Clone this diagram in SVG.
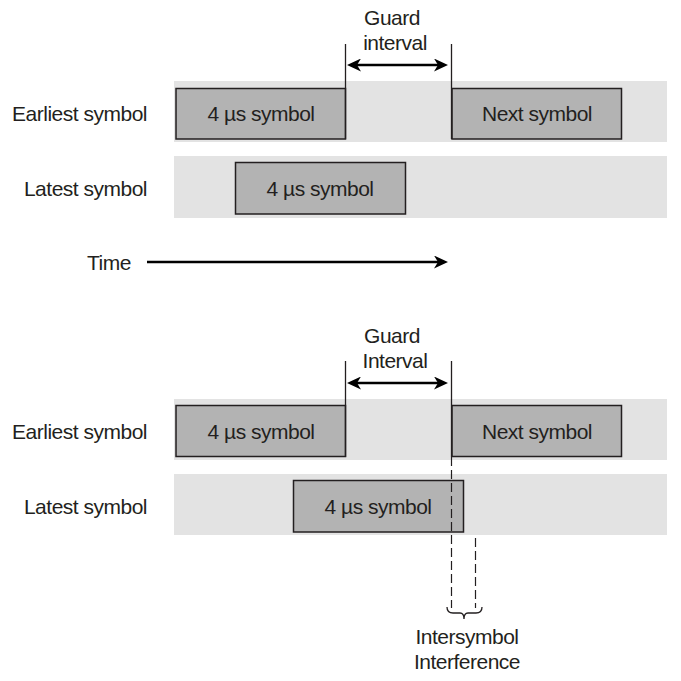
<svg xmlns="http://www.w3.org/2000/svg" width="681" height="681" viewBox="0 0 681 681">
<style>
text{font-family:"Liberation Sans",Arial,sans-serif;font-size:21px;letter-spacing:-0.5px;fill:#231f20}
.mid{text-anchor:middle}
.end{text-anchor:end}
.band{fill:#e3e3e3}
.box{fill:#b3b3b3;stroke:#231f20;stroke-width:1.5}
.vl{stroke:#231f20;stroke-width:1.3;fill:none}
.arr{stroke:#000;stroke-width:2.6;fill:none;marker-end:url(#ah)}
.darr{stroke:#000;stroke-width:2.6;fill:none;marker-start:url(#ah);marker-end:url(#ah)}
.dash{stroke:#231f20;stroke-width:1.2;stroke-dasharray:9 4;fill:none}
</style>
<defs>
<marker id="ah" markerUnits="userSpaceOnUse" markerWidth="15" markerHeight="13" refX="4" refY="6.5" orient="auto-start-reverse" viewBox="0 0 15 13">
<path d="M0,0 L14,6.5 L0,13 L4,6.5 z" fill="#000"/>
</marker>
</defs>
<rect width="681" height="681" fill="#fff"/>

<g id="top">
<g id="top-band1"><rect class="band" x="174" y="81" width="493" height="61"/></g>
<g id="top-band2"><rect class="band" x="174" y="156" width="493" height="62"/></g>
<g id="top-earliest-label"><text class="end" x="147" y="121">Earliest symbol</text></g>
<g id="top-latest-label"><text class="end" x="147" y="196">Latest symbol</text></g>
<g id="top-earliest-box"><rect class="box" x="176" y="88.5" width="169.5" height="50.5"/><text class="mid" x="261" y="121">4 µs symbol</text></g>
<g id="top-next-box"><rect class="box" x="452" y="88.5" width="169.5" height="50.5"/><text class="mid" x="537" y="121">Next symbol</text></g>
<g id="top-latest-box"><rect class="box" x="235.5" y="162.5" width="170" height="51.5"/><text class="mid" x="320" y="196">4 µs symbol</text></g>
<g id="top-guard-label"><text class="mid" x="392" y="25">Guard</text><text class="mid" x="395" y="50">interval</text></g>
<g id="time-label"><text x="87" y="270">Time</text></g>
</g>

<g id="bottom">
<g id="bot-band1"><rect class="band" x="174" y="399" width="493" height="61"/></g>
<g id="bot-band2"><rect class="band" x="174" y="474" width="493" height="61"/></g>
<g id="bot-earliest-label"><text class="end" x="147" y="439">Earliest symbol</text></g>
<g id="bot-latest-label"><text class="end" x="147" y="514">Latest symbol</text></g>
<g id="bot-earliest-box"><rect class="box" x="176" y="405.5" width="169.5" height="51"/><text class="mid" x="261" y="439">4 µs symbol</text></g>
<g id="bot-next-box"><rect class="box" x="452" y="405.5" width="169.5" height="51"/><text class="mid" x="537" y="439">Next symbol</text></g>
<g id="bot-latest-box"><rect class="box" x="293.5" y="480.5" width="170" height="51.5"/><text class="mid" x="378" y="514">4 µs symbol</text></g>
<g id="bot-guard-label"><text class="mid" x="392" y="343">Guard</text><text class="mid" x="395" y="368">Interval</text></g>
<g id="isi-label"><text class="mid" x="467" y="644">Intersymbol</text><text class="mid" x="467" y="669">Interference</text></g>
</g>

<g id="connectors">
<line class="vl" x1="345.5" y1="44" x2="345.5" y2="139"/>
<line class="vl" x1="451.5" y1="44" x2="451.5" y2="139"/>
<line class="darr" x1="357" y1="65" x2="438" y2="65"/>
<line class="arr" x1="147" y1="262" x2="438" y2="262"/>
<line class="vl" x1="345.5" y1="361" x2="345.5" y2="457"/>
<line class="vl" x1="451.5" y1="361" x2="451.5" y2="457"/>
<line class="darr" x1="357" y1="383" x2="438" y2="383"/>
<line class="dash" x1="451.5" y1="457" x2="451.5" y2="608"/>
<line class="dash" x1="475.5" y1="538" x2="475.5" y2="608"/>
<path class="vl" d="M447,607 Q447,613 453,613 L460,613 Q464,613 464,619 Q464,613 468,613 L476,613 Q482,613 482,607"/>
</g>
</svg>
